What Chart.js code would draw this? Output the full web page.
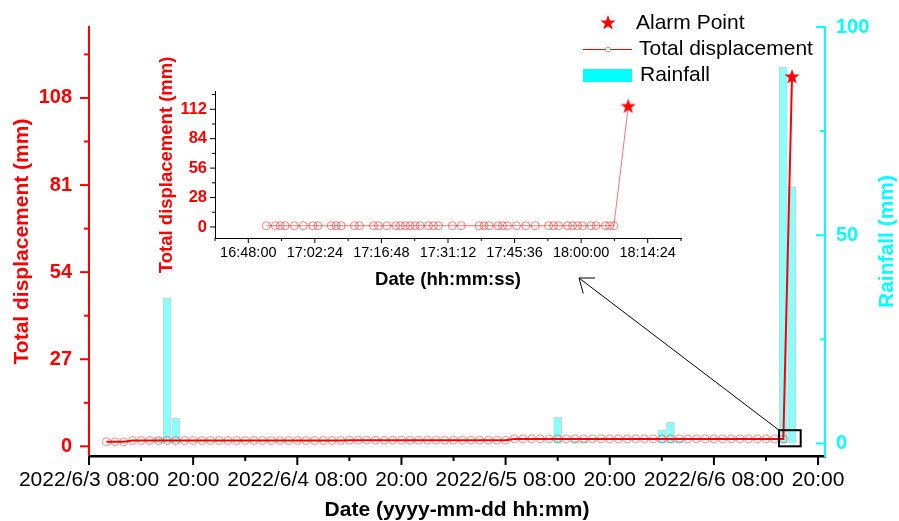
<!DOCTYPE html>
<html>
<head>
<meta charset="utf-8">
<title>Displacement and rainfall</title>
<script src="https://cdn.jsdelivr.net/npm/chart.js@4.4.0/dist/chart.umd.min.js"></script>
<style>
  html, body { margin: 0; padding: 0; background: #fff; }
  #wrap { position: relative; width: 899px; height: 521px; }
  #main { position: absolute; left: 0; top: 0; }
  #inset { position: absolute; left: 150px; top: 40px; }
</style>
</head>
<body>
<div id="wrap">
  <canvas id="main" width="899" height="521"></canvas>
  <canvas id="inset" width="540" height="260"></canvas>
</div>
<script>
// ---- main chart data (x = hours counted from 2022/6/3 00:00) ----
const dispStartHour = 10; // first hourly reading, 2022/6/3 10:00
const dispValues = [
  1.4, 1.4, 1.4,
  1.8, 1.8, 1.8, 1.8, 1.8, 1.8, 1.8, 1.8, 1.8, 1.8, 1.8, 1.8, 1.8,
  1.8, 1.8, 1.8, 1.8, 1.8, 1.8, 1.8, 1.8, 1.8, 1.8, 1.8, 1.8,
  1.9, 1.9, 1.9, 1.9, 1.9, 1.9, 1.9, 1.9, 1.9, 1.9, 1.9, 1.9, 1.9,
  1.9, 1.9, 1.9, 1.9, 1.9, 1.9,
  2.3, 2.3, 2.3, 2.3, 2.3, 2.3, 2.3, 2.3, 2.3, 2.3, 2.3, 2.3, 2.3,
  2.3, 2.3, 2.3, 2.3, 2.3, 2.3, 2.3, 2.3, 2.3, 2.3, 2.3, 2.3, 2.3,
  2.3, 2.3, 2.3, 2.3, 2.3, 2.3
];
const alarmHour = 89;      // 2022/6/6 17:00
const alarmValue = 114.5;

const rainHours  = [16, 17, 18, 62, 64, 65, 74, 75, 76, 88, 89];
const rainValues = [1.5, 35.0, 6.1, 6.3, 0.6, 0.6, 3.3, 5.1, 0.6, 90.4, 61.7];

const xTickHours  = [8, 20, 32, 44, 56, 68, 80, 92];
const xTickLabels = ['2022/6/3 08:00', '20:00', '2022/6/4 08:00', '20:00',
                     '2022/6/5 08:00', '20:00', '2022/6/6 08:00', '20:00'];
const xMinorHours = [14, 26, 38, 50, 62, 74, 86];
const leftTicks  = [0, 27, 54, 81, 108];
const leftMinor  = [13.5, 40.5, 67.5, 94.5, 121.5];
const rightTicks = [0, 50, 100];
const rightMinor = [25, 75];

// zoomed window marked on the main chart
const zoomBox = { x0: 87.5, x1: 90, y0: 0, y1: 5 };
const arrowTip = { x: 579, y: 278 };

// ---- inset data (time of day) ----
const insetTimes = [
  '16:51:54', '16:53:51', '16:54:56', '16:55:57', '16:57:58', '16:59:54',
  '17:01:59', '17:03:04', '17:05:56', '17:07:01', '17:08:05', '17:10:57',
  '17:12:02', '17:15:04', '17:16:09', '17:17:59', '17:19:55', '17:20:54',
  '17:21:59', '17:23:00', '17:24:05', '17:25:10', '17:26:58', '17:28:03',
  '17:29:08', '17:32:09', '17:34:04', '17:37:56', '17:39:00', '17:40:05',
  '17:42:02', '17:43:02', '17:44:03', '17:46:01', '17:48:03', '17:50:04',
  '17:52:57', '17:54:02', '17:55:07', '17:57:04', '17:58:09', '17:59:12',
  '18:00:17', '18:02:08', '18:03:13', '18:05:14', '18:06:09', '18:07:05'
];
const insetValues = [
  1.2, 1.2, 1.2, 1.2, 1.2, 1.2, 1.2, 1.2, 1.2, 1.2, 1.2, 1.2,
  1.2, 1.2, 1.2, 1.2, 1.2, 1.2, 1.2, 1.2, 1.2, 1.2, 1.2, 1.2,
  1.2, 1.2, 1.2, 1.2, 1.2, 1.2, 1.2, 1.2, 1.2, 1.2, 1.2, 1.2,
  1.2, 1.2, 1.2, 1.2, 1.2, 1.2, 1.2, 1.2, 1.2, 1.2, 1.2, 1.2
];
const insetAlarmTime = '18:10:11';
const insetAlarmValue = 114.5;
const insetXTicks = ['16:48:00', '17:02:24', '17:16:48', '17:31:12', '17:45:36', '18:00:00', '18:14:24'];
const insetXMinor = ['16:40:48', '16:55:12', '17:09:36', '17:24:00', '17:38:24', '17:52:48', '18:07:12', '18:21:36'];
const insetYTicks = [0, 28, 56, 84, 112];
const insetYMinor = [14, 42, 70, 98, 126];

// ---- helpers ----
const FONT = '"Liberation Sans", Arial, sans-serif';
Chart.defaults.font.family = FONT;

function secs(t) {
  const p = t.split(':').map(Number);
  return p[0] * 3600 + p[1] * 60 + p[2];
}

function makeStar(r) {
  const c = document.createElement('canvas');
  const s = Math.ceil(r * 2 + 2);
  c.width = c.height = s;
  const g = c.getContext('2d');
  g.fillStyle = '#ff0000';
  g.beginPath();
  for (let i = 0; i < 10; i++) {
    const rr = i % 2 ? r * 0.4 : r;
    const a = -Math.PI / 2 + i * Math.PI / 5;
    const px = s / 2 + rr * Math.cos(a), py = s / 2 + rr * Math.sin(a);
    if (i) g.lineTo(px, py); else g.moveTo(px, py);
  }
  g.closePath();
  g.fill();
  return c;
}
const starImg = makeStar(8);

// tick marks (major + minor) drawn per scale
function tickMarks(specs) {
  return {
    id: 'tickMarks',
    afterDraw(chart) {
      const ctx = chart.ctx;
      ctx.save();
      specs.forEach(sp => {
        const sc = chart.scales[sp.id];
        ctx.strokeStyle = sp.color;
        ctx.lineWidth = sp.width;
        const draw = (vals, len) => vals.forEach(v => {
          const p = sc.getPixelForValue(v);
          ctx.beginPath();
          if (sc.isHorizontal()) {
            ctx.moveTo(p, sc.top);
            ctx.lineTo(p, sc.top + len);
          } else {
            const x0 = sp.side === 'left' ? sc.right : sc.left;
            ctx.moveTo(x0, p);
            ctx.lineTo(x0 + sp.dir * len, p);
          }
          ctx.stroke();
        });
        draw(sp.major, sp.majorLen);
        draw(sp.minor, sp.minorLen);
      });
      ctx.restore();
    }
  };
}

function fixTicks(values) {
  return scale => { scale.ticks = values.map(v => ({ value: v })); };
}

// ---- main chart ----
const dispPoints = dispValues.map((v, i) => ({ x: dispStartHour + i, y: v }));
dispPoints.push({ x: alarmHour, y: alarmValue });
const rainPoints = rainHours.map((h, i) => ({ x: h, y: rainValues[i] }));

const overlay = {
  id: 'overlay',
  afterDraw(chart) {
    const ctx = chart.ctx;
    const sx = chart.scales.x, sy = chart.scales.y;
    ctx.save();

    // zoom box + arrow
    const bx0 = sx.getPixelForValue(zoomBox.x0), bx1 = sx.getPixelForValue(zoomBox.x1);
    const by0 = sy.getPixelForValue(zoomBox.y1), by1 = sy.getPixelForValue(zoomBox.y0);
    ctx.strokeStyle = '#000';
    ctx.lineWidth = 2;
    ctx.strokeRect(bx0, by0, bx1 - bx0, by1 - by0);

    ctx.lineWidth = 1;
    ctx.beginPath();
    ctx.moveTo(bx0, by0);
    ctx.lineTo(arrowTip.x, arrowTip.y);
    const ang = Math.atan2(by0 - arrowTip.y, bx0 - arrowTip.x);
    [-0.65, 0.65].forEach(d => {
      ctx.moveTo(arrowTip.x, arrowTip.y);
      ctx.lineTo(arrowTip.x + 16 * Math.cos(ang + d), arrowTip.y + 16 * Math.sin(ang + d));
    });
    ctx.stroke();

    // legend
    ctx.drawImage(starImg, 608 - starImg.width / 2, 23 - starImg.height / 2);
    ctx.fillStyle = '#000';
    ctx.font = '21px ' + FONT;
    ctx.textBaseline = 'middle';
    ctx.textAlign = 'left';
    ctx.fillText('Alarm Point', 636, 23);
    ctx.fillText('Total displacement', 639, 49);
    ctx.fillText('Rainfall', 640, 75);

    ctx.strokeStyle = '#ff0000';
    ctx.beginPath();
    ctx.moveTo(583, 49.5);
    ctx.lineTo(632, 49.5);
    ctx.stroke();
    ctx.strokeStyle = 'rgba(255,0,0,0.5)';
    ctx.fillStyle = '#fff';
    ctx.beginPath();
    ctx.arc(608, 49.5, 2.5, 0, Math.PI * 2);
    ctx.fill();
    ctx.stroke();

    ctx.fillStyle = '#00ffff';
    ctx.fillRect(583, 69, 49, 13);

    // right axis title, reading upwards
    const sr = chart.scales.yR;
    ctx.translate(887, (sr.top + sr.bottom) / 2);
    ctx.rotate(-Math.PI / 2);
    ctx.textAlign = 'center';
    ctx.fillStyle = '#00ffff';
    ctx.font = 'bold 21px ' + FONT;
    ctx.fillText('Rainfall (mm)', 0, 0);
    ctx.restore();
  }
};

new Chart(document.getElementById('main'), {
  type: 'line',
  data: {
    datasets: [
      {
        label: 'Alarm Point',
        data: [{ x: alarmHour, y: alarmValue }],
        yAxisID: 'y',
        showLine: false,
        pointStyle: starImg,
        pointRadius: 8,
        order: 0
      },
      {
        label: 'Total displacement',
        data: dispPoints,
        yAxisID: 'y',
        borderColor: '#ff0000',
        borderWidth: 2,
        tension: 0,
        pointStyle: 'circle',
        pointRadius: c => (c.dataIndex < dispValues.length ? 4 : 0),
        pointBorderColor: 'rgba(255,0,0,0.45)',
        pointBackgroundColor: 'rgba(255,255,255,0)',
        pointBorderWidth: 1,
        order: 1
      },
      {
        type: 'bar',
        label: 'Rainfall',
        data: rainPoints,
        yAxisID: 'yR',
        backgroundColor: '#88ffff',
        borderColor: '#d0d0d0',
        borderWidth: 1,
        barThickness: 8,
        order: 2
      }
    ]
  },
  options: {
    responsive: false,
    animation: false,
    layout: { padding: { top: 26, left: 0, right: 0, bottom: 0 } },
    plugins: { legend: { display: false }, tooltip: { enabled: false } },
    scales: {
      x: {
        type: 'linear',
        min: 8,
        max: 92.8,
        offset: false,
        afterBuildTicks: fixTicks(xTickHours),
        afterFit: s => { s.height = 65; },
        grid: { display: false, drawTicks: false },
        border: { display: true, color: '#000', width: 2.5 },
        ticks: {
          autoSkip: false, maxRotation: 0, padding: 13.5, color: '#000',
          font: { size: 21, lineHeight: 1 },
          callback: (v, i) => xTickLabels[i]
        },
        title: {
          display: true, text: 'Date (yyyy-mm-dd hh:mm)', color: '#000',
          font: { size: 21, weight: 'bold', lineHeight: 1 },
          padding: { top: 0, bottom: 0.5 }
        }
      },
      y: {
        position: 'left',
        min: -3,
        max: 130,
        afterBuildTicks: fixTicks(leftTicks),
        afterFit: s => { s.width = 89; },
        grid: { display: false, drawTicks: false },
        border: { display: true, color: '#ff0000', width: 2 },
        ticks: {
          autoSkip: false, padding: 17, color: '#ff0000',
          font: { size: 20, weight: 'bold', lineHeight: 1 },
          callback: v => String(v)
        },
        title: {
          display: true, text: 'Total displacement (mm)', color: '#ff0000',
          font: { size: 21, weight: 'bold', lineHeight: 1 },
          padding: { top: 11.5, bottom: 0 }
        }
      },
      yR: {
        position: 'right',
        min: -3,
        max: 100,
        afterBuildTicks: fixTicks(rightTicks),
        afterFit: s => { s.width = 74; },
        grid: { display: false, drawTicks: false },
        border: { display: true, color: '#00ffff', width: 2 },
        ticks: {
          autoSkip: false, padding: 11, color: '#00ffff',
          font: { size: 20, weight: 'bold', lineHeight: 1 },
          callback: v => String(v)
        }
      }
    }
  },
  plugins: [
    tickMarks([
      { id: 'x', color: '#000', width: 2, major: xTickHours, minor: xMinorHours, majorLen: 9, minorLen: 5 },
      { id: 'y', side: 'left', dir: -1, color: '#ff0000', width: 2, major: leftTicks, minor: leftMinor, majorLen: 9, minorLen: 5 },
      { id: 'yR', side: 'right', dir: -1, color: '#00ffff', width: 2, major: rightTicks, minor: rightMinor, majorLen: 9, minorLen: 5 }
    ]),
    overlay
  ]
});

// ---- inset chart ----
const insetPoints = insetTimes.map((t, i) => ({ x: secs(t), y: insetValues[i] }));
insetPoints.push({ x: secs(insetAlarmTime), y: insetAlarmValue });
const insetTickSecs = insetXTicks.map(secs);
const insetMinorSecs = insetXMinor.map(secs);

new Chart(document.getElementById('inset'), {
  type: 'line',
  data: {
    datasets: [
      {
        label: 'Alarm Point',
        data: [{ x: secs(insetAlarmTime), y: insetAlarmValue }],
        showLine: false,
        pointStyle: starImg,
        pointRadius: 8,
        order: 0
      },
      {
        label: 'Total displacement',
        data: insetPoints,
        borderColor: 'rgba(255,0,0,0.55)',
        borderWidth: 1,
        tension: 0,
        pointStyle: 'circle',
        pointRadius: c => (c.dataIndex < insetValues.length ? 4 : 0),
        pointBorderColor: 'rgba(255,0,0,0.5)',
        pointBackgroundColor: 'rgba(255,255,255,0)',
        pointBorderWidth: 1,
        order: 1
      }
    ]
  },
  options: {
    responsive: false,
    animation: false,
    layout: { padding: { top: 51.7, left: 0, right: 8, bottom: 0 } },
    plugins: { legend: { display: false }, tooltip: { enabled: false } },
    scales: {
      x: {
        type: 'linear',
        min: secs(insetXMinor[0]),
        max: secs(insetXMinor[insetXMinor.length - 1]),
        afterBuildTicks: fixTicks(insetTickSecs),
        afterFit: s => { s.height = 62; },
        grid: { display: false, drawTicks: false },
        border: { display: true, color: '#000', width: 1 },
        ticks: {
          autoSkip: false, maxRotation: 0, padding: 7.75, color: '#000',
          font: { size: 14.5, lineHeight: 1 },
          callback: (v, i) => insetXTicks[i]
        },
        title: {
          display: true, text: 'Date (hh:mm:ss)', color: '#000',
          font: { size: 18.5, weight: 'bold', lineHeight: 1 },
          padding: { top: 0, bottom: 10.75 }
        }
      },
      y: {
        position: 'left',
        min: -10.5,
        max: 128.7,
        afterBuildTicks: fixTicks(insetYTicks),
        afterFit: s => { s.width = 65; },
        grid: { display: false, drawTicks: false },
        border: { display: true, color: '#000', width: 1 },
        ticks: {
          autoSkip: false, padding: 8, color: '#ff0000',
          font: { size: 16.5, weight: 'bold', lineHeight: 1 },
          callback: v => String(v)
        },
        title: {
          display: true, text: 'Total displacement (mm)', color: '#ff0000',
          font: { size: 18.5, weight: 'bold', lineHeight: 1 },
          padding: { top: 7.75, bottom: 0 }
        }
      }
    }
  },
  plugins: [
    tickMarks([
      { id: 'x', color: '#000', width: 1, major: insetTickSecs, minor: insetMinorSecs, majorLen: 5, minorLen: 3 },
      { id: 'y', side: 'left', dir: -1, color: '#000', width: 1, major: insetYTicks, minor: insetYMinor, majorLen: 5, minorLen: 3 }
    ])
  ]
});
</script>
</body>
</html>
